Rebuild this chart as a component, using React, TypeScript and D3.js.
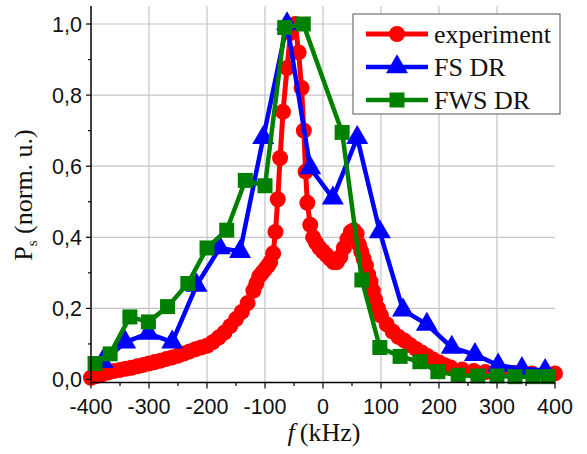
import React from "react";
import * as d3 from "d3";

const W = 587;
const H = 454;

// Experiment (red circles)
const expF = [-400,-390,-380,-370,-360,-350,-340,-330,-320,-310,-300,-290,-280,-270,-260,-250,-240,-230,-220,-210,-200,-190,-180,-170,-160,-150,-140,-130,-120,-115,-110,-105,-100,-95,-91,-86,-82,-78,-74,-69,-62,-56,-48,-42,-37,-33,-30,-27,-22,-17,-12,-6,0,6,12,18,24,30,36,42,48,53,58,62,66,70,74,78,82,86,90,95,100,110,120,130,140,150,160,170,180,190,200,210,220,240,260,280,300,330,360,400];
const expV = [0.005,0.01,0.015,0.02,0.024,0.027,0.03,0.033,0.037,0.041,0.045,0.049,0.053,0.058,0.062,0.067,0.073,0.079,0.085,0.09,0.095,0.105,0.118,0.132,0.15,0.17,0.19,0.215,0.25,0.27,0.29,0.3,0.31,0.32,0.33,0.355,0.415,0.507,0.623,0.753,0.876,0.975,1.0,0.92,0.82,0.70,0.585,0.497,0.435,0.40,0.385,0.37,0.36,0.35,0.34,0.33,0.33,0.345,0.37,0.395,0.415,0.42,0.41,0.38,0.36,0.34,0.32,0.295,0.275,0.25,0.225,0.2,0.18,0.155,0.135,0.12,0.11,0.097,0.086,0.076,0.066,0.056,0.048,0.04,0.034,0.028,0.024,0.021,0.019,0.018,0.017,0.017];

// FS DR (blue triangles)
const fsF = [-380,-341,-301,-260,-218,-178,-143,-103,-62,-22,17,59,98,138,179,222,262,302,343,383];
const fsV = [0.05,0.105,0.13,0.105,0.265,0.37,0.36,0.68,1.0,0.595,0.51,0.68,0.415,0.195,0.155,0.09,0.07,0.04,0.03,0.025];

// FWS DR (green squares)
const fwsF = [-393,-367,-333,-301,-268,-233,-200,-166,-134,-100,-66,-34,33,67,98,133,167,198,233,267,300,331,362,388];
const fwsV = [0.045,0.072,0.176,0.162,0.205,0.27,0.37,0.42,0.56,0.545,0.99,1.0,0.695,0.28,0.09,0.065,0.05,0.022,0.012,0.01,0.01,0.008,0.008,0.008];

const xTicks = [-400,-300,-200,-100,0,100,200,300,400];
const xMinor = [-350,-250,-150,-50,50,150,250,350];
const yTicks = [0,0.2,0.4,0.6,0.8,1.0];
const yMinor = [0.1,0.3,0.5,0.7,0.9];
const legendLabels = ["experiment","FS DR","FWS DR"];

const RED = "#ff0000";
const BLUE = "#0000ff";
const GREEN = "#008000";

export default function App() {
  const x = d3.scaleLinear().domain([-400, 400]).range([91, 555]);
  const y = d3.scaleLinear().domain([0, 1]).range([379.5, 24]);
  const top = 6;
  const axisY = 382.5;

  const line = d3.line<[number, number]>().x(d => x(d[0])).y(d => y(d[1]));
  const zip = (a: number[], b: number[]) => a.map((v, i) => [v, b[i]] as [number, number]);

  const circle = d3.symbol().type(d3.symbolCircle).size(Math.PI * 8 * 8)()!;
  const tri = d3.symbol().type(d3.symbolTriangle).size(210)()!;
  const sq = d3.symbol().type(d3.symbolSquare).size(225)()!;

  const fmt = (v: number) => d3.format(".1f")(v).replace(".", ",");

  const series = [
    { pts: zip(expF, expV), color: RED, sym: circle, lw: 5 },
    { pts: zip(fsF, fsV), color: BLUE, sym: tri, lw: 4.5 },
    { pts: zip(fwsF, fwsV), color: GREEN, sym: sq, lw: 4.5 },
  ];

  const legendRows = [34, 67, 100];

  return (
    <svg width={W} height={H} style={{ position: "absolute", left: 0, top: 0, background: "#fff" }}>
      <rect x={0} y={0} width={W} height={H} fill="#fff" />
      {/* grid */}
      {xTicks.filter(t => t > -400 && t < 400).map(t => (
        <line key={"gx" + t} x1={x(t)} x2={x(t)} y1={top} y2={axisY} stroke="#c4c4c4" strokeWidth={1.2} />
      ))}
      {yTicks.filter(t => t > 0).map(t => (
        <line key={"gy" + t} x1={x(-400)} x2={x(400)} y1={y(t)} y2={y(t)} stroke="#c4c4c4" strokeWidth={1.2} />
      ))}
      {/* series */}
      {series.map((s, i) => (
        <g key={"s" + i}>
          <path d={line(s.pts)!} fill="none" stroke={s.color} strokeWidth={s.lw} strokeLinejoin="round" />
          {s.pts.map((p, j) => (
            <path key={j} d={s.sym} transform={`translate(${x(p[0])},${y(p[1])})`} fill={s.color} />
          ))}
        </g>
      ))}
      {/* axes */}
      <line x1={x(-400)} x2={x(-400)} y1={top} y2={axisY} stroke="#000" strokeWidth={1.5} />
      <line x1={x(-400)} x2={x(400)} y1={axisY} y2={axisY} stroke="#000" strokeWidth={1.5} />
      {yTicks.map(t => (
        <g key={"yt" + t}>
          <line x1={x(-400) - 5} x2={x(-400)} y1={y(t)} y2={y(t)} stroke="#000" strokeWidth={1.2} />
          <text x={82} y={y(t)} dy="0.36em" textAnchor="end" fontFamily="Liberation Sans, Arial, sans-serif" fontSize={21.5} fill="#111">{fmt(t)}</text>
        </g>
      ))}
      {yMinor.map(t => (
        <line key={"ym" + t} x1={x(-400) - 3} x2={x(-400)} y1={y(t)} y2={y(t)} stroke="#000" strokeWidth={1.2} />
      ))}
      {xTicks.map(t => (
        <g key={"xt" + t}>
          <line x1={x(t)} x2={x(t)} y1={axisY} y2={axisY + 6} stroke="#000" strokeWidth={1.2} />
          <text x={x(t)} y={414} textAnchor="middle" fontFamily="Liberation Sans, Arial, sans-serif" fontSize={21.5} fill="#111">{String(t)}</text>
        </g>
      ))}
      {xMinor.map(t => (
        <line key={"xm" + t} x1={x(t)} x2={x(t)} y1={axisY} y2={axisY + 3.5} stroke="#000" strokeWidth={1.2} />
      ))}
      {/* axis titles */}
      <text x={324} y={441} textAnchor="middle" fontFamily="Liberation Serif, Times New Roman, serif" fontSize={26} fill="#111">
        <tspan fontStyle="italic">f</tspan>
        <tspan dx={5}>(kHz)</tspan>
      </text>
      <text transform="translate(32,195) rotate(-90)" textAnchor="middle" fontFamily="Liberation Serif, Times New Roman, serif" fontSize={26} fill="#111">
        <tspan>P</tspan>
        <tspan fontSize={15} dy={5}>s</tspan>
        <tspan dy={-5}> (norm. u.)</tspan>
      </text>
      {/* legend */}
      <rect x={353} y={14} width={207} height={100} fill="#fff" stroke="#555" strokeWidth={1} />
      {series.map((s, i) => (
        <g key={"lg" + i}>
          <line x1={366} x2={428} y1={legendRows[i]} y2={legendRows[i]} stroke={s.color} strokeWidth={s.lw} />
          <path d={s.sym} transform={`translate(397,${legendRows[i]})`} fill={s.color} />
          <text x={434} y={legendRows[i] + 9} fontFamily="Liberation Serif, Times New Roman, serif" fontSize={26} fill="#111">{legendLabels[i]}</text>
        </g>
      ))}
    </svg>
  );
}
